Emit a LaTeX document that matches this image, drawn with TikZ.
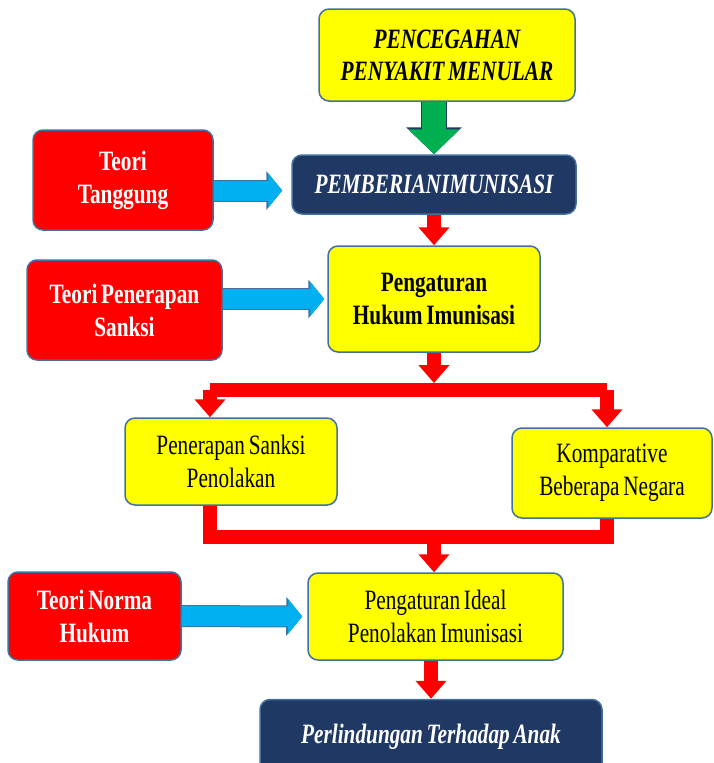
\documentclass[tikz,border=0pt]{standalone}
\usepackage{fontspec}
\setmainfont{Liberation Serif}[FakeStretch=0.76, WordSpace=0.7]
\usetikzlibrary{arrows.meta}

\definecolor{boxred}{HTML}{FF0000}
\definecolor{boxyellow}{HTML}{FFFF00}
\definecolor{boxnavy}{HTML}{203864}
\definecolor{boxborder}{HTML}{41719C}
\definecolor{arrowblue}{HTML}{00B0F0}
\definecolor{arrowgreen}{HTML}{00B050}

\tikzset{
	box/.style={draw=boxborder, line width=1.5pt, rounded corners=10pt, align=center, inner sep=0pt},
	redbox/.style={box, fill=boxred, text=white, font=\fontsize{28}{33}\selectfont\bfseries},
	navybox/.style={box, fill=boxnavy, text=white, font=\fontsize{28}{33}\selectfont\bfseries\itshape},
	topicbox/.style={box, fill=boxyellow, font=\fontsize{28}{32}\selectfont\bfseries\itshape},
	boldyellow/.style={box, fill=boxyellow, font=\fontsize{28}{33}\selectfont\bfseries},
	yellowbox/.style={box, fill=boxyellow, font=\fontsize{28}{33}\selectfont},
	redline/.style={draw=boxred, line width=14pt},
	redarrow/.style={draw=boxred, line width=14pt, -{Triangle[width=30pt,length=18pt]}},
	bluearrow/.style={draw=arrowblue, line width=20pt, -{Triangle[width=34pt,length=14pt]},
		preaction={draw=boxborder, line width=22pt, -{Triangle[width=38pt,length=16pt]}}},
	greenarrow/.style={draw=arrowgreen, line width=24pt, -{Triangle[width=50pt,length=25pt]},
		preaction={draw=boxnavy, line width=26pt, -{Triangle[width=54pt,length=27pt]}}}
}

\begin{document}
\begin{tikzpicture}[x=1pt, y=-1pt]
		\clip (0,0) rectangle (714,763);
		
		% boxes, placed at pixel positions of the scan
		\node[topicbox, minimum width=256pt, minimum height=92pt] (pp) at (447,55) {PENCEGAHAN\\PENYAKIT MENULAR};
		\node[navybox, minimum width=284pt, minimum height=59pt] (pi) at (434,184.5) {PEMBERIANIMUNISASI};
		\node[redbox, minimum width=180pt, minimum height=100pt] (tt) at (123,180) {Teori\\Tanggung};
		\node[boldyellow, minimum width=212pt, minimum height=106pt] (ph) at (434,299) {Pengaturan\\Hukum Imunisasi};
		\node[redbox, minimum width=195pt, minimum height=100pt] (tps) at (124.5,310) {Teori Penerapan\\Sanksi};
		\node[yellowbox, minimum width=212pt, minimum height=87pt] (psp) at (231,461.5) {Penerapan Sanksi\\Penolakan};
		\node[yellowbox, minimum width=200pt, minimum height=90pt] (kbn) at (612,473) {Komparative\\Beberapa Negara};
		\node[redbox, minimum width=173pt, minimum height=88pt] (tnh) at (94.5,616) {Teori Norma\\Hukum};
		\node[yellowbox, minimum width=255pt, minimum height=87pt] (pip) at (435.5,616.5) {Pengaturan Ideal\\Penolakan Imunisasi};
		\node[navybox, minimum width=342pt, minimum height=75pt] (pta) at (431,737) {Perlindungan Terhadap Anak};
		
		% columns of the red branches
		\coordinate (leftcol) at (210,0);
		\coordinate (rightcol) at (607,0);
		\coordinate (split) at (434,390);
		\coordinate (join) at (434,537);
		
		\draw[greenarrow] (pi.north |- pp.south) -- (pi.north);
		\draw[redarrow] (pi.south) -- (ph.north);
		\draw[bluearrow] ([yshift=-6pt]tt.east |- pi.west) -- ([xshift=-9pt,yshift=-6pt]pi.west);
		\draw[bluearrow] (tps.east |- ph.west) -- ([xshift=-3pt]ph.west);
		
		\draw[redarrow] (ph.south) -- ([yshift=7pt]split);
		\draw[redline] (leftcol |- split) -- (rightcol |- split);
		\draw[redarrow] (leftcol |- split) -- (leftcol |- psp.north);
		\draw[redarrow] (rightcol |- split) -- (rightcol |- kbn.north);
		
		\draw[redline] (leftcol |- psp.south) -- (leftcol |- join) -- (rightcol |- join) -- (rightcol |- kbn.south);
		\draw[redarrow] (join) -- (join |- pip.north);
		
		\draw[bluearrow] (tnh.east) -- ([xshift=-5pt]pip.west);
		\draw[redarrow] (pta.north |- pip.south) -- (pta.north);
		
	\end{tikzpicture}
\end{document}
